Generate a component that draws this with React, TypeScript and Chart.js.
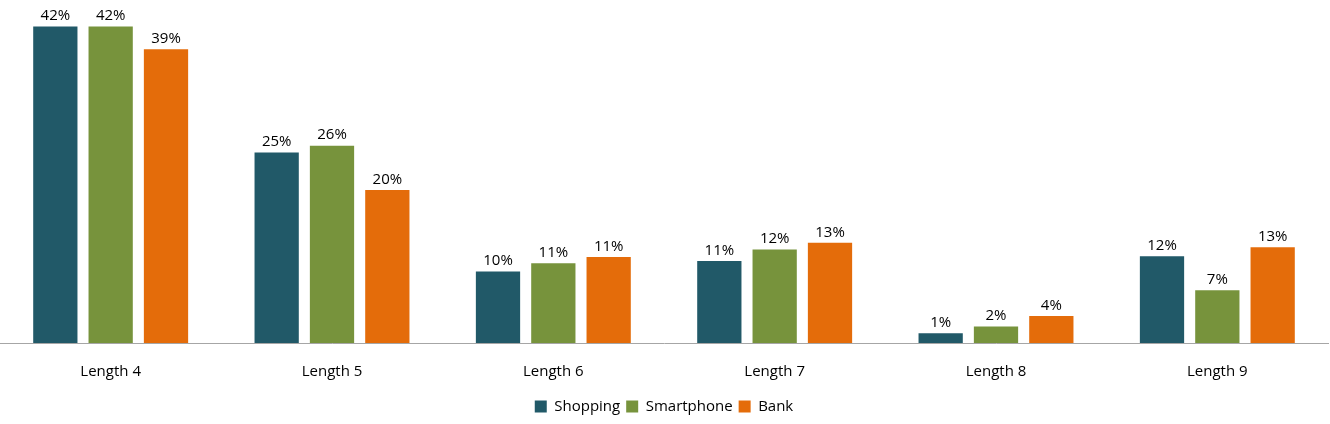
import Chart from "chart.js/auto";
import { useEffect, useRef } from "react";

const categories = ["Length 4", "Length 5", "Length 6", "Length 7", "Length 8", "Length 9"];
const shopping = [42, 25.3, 9.5, 10.9, 1.3, 11.5];
const smartphone = [42, 26.2, 10.6, 12.4, 2.2, 7.0];
const bank = [39, 20.3, 11.4, 13.3, 3.6, 12.7];

const FONT = "'Open Sans', 'Noto Sans', sans-serif";

const valueLabels = {
  id: "valueLabels",
  afterDatasetsDraw(chart: any) {
    const ctx = chart.ctx;
    ctx.save();
    ctx.font = `15px ${FONT}`;
    ctx.fillStyle = "#000";
    ctx.textAlign = "center";
    ctx.textBaseline = "bottom";
    chart.data.datasets.forEach((ds: any, i: number) => {
      chart.getDatasetMeta(i).data.forEach((bar: any, j: number) => {
        ctx.fillText(Math.round(ds.data[j]) + "%", bar.x, bar.y - 3);
      });
    });
    ctx.restore();
  },
};

export default function App() {
  const canvasRef = useRef<HTMLCanvasElement>(null);
  useEffect(() => {
    document.body.style.margin = "0";
    let chart: Chart | null = null;
    if (canvasRef.current) {
      chart = new Chart(canvasRef.current, {
        type: "bar",
        data: {
          labels: categories,
          datasets: [
            { label: "Shopping", data: shopping, backgroundColor: "#215968" },
            { label: "Smartphone", data: smartphone, backgroundColor: "#77933C" },
            { label: "Bank", data: bank, backgroundColor: "#E46C0A" },
          ],
        },
        options: {
          animation: false,
          responsive: false,
          layout: { padding: { top: 4, left: 0, right: 2 } },
          datasets: { bar: { categoryPercentage: 0.75, barPercentage: 0.8 } },
          plugins: {
            legend: {
              position: "bottom",
              labels: {
                boxWidth: 12,
                boxHeight: 12,
                color: "#000",
                padding: 6,
                font: { family: FONT, size: 15 },
              },
            },
            tooltip: { enabled: false },
          },
          scales: {
            x: {
              grid: { display: false },
              border: { color: "#a6a6a6" },
              ticks: { color: "#000", font: { family: FONT, size: 15 }, padding: 12 },
            },
            y: { display: false, min: 0, max: 45 },
          },
        },
        plugins: [valueLabels],
      });
    }
    return () => {
      if (chart) chart.destroy();
    };
  }, []);
  return (
    <div style={{ width: 1330, height: 424 }}>
      <canvas ref={canvasRef} width={1330} height={424}></canvas>
    </div>
  );
}
